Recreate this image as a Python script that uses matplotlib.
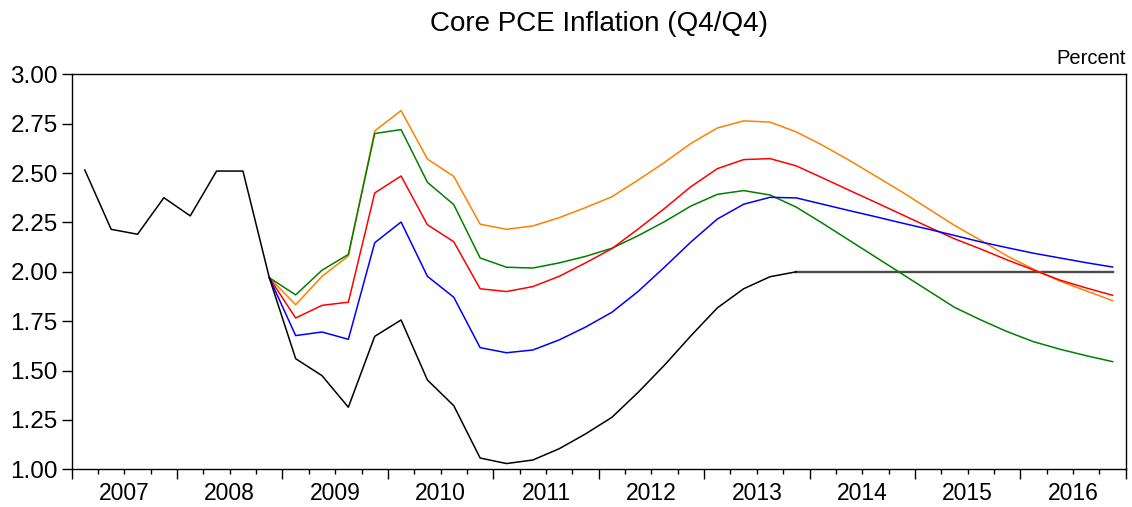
import matplotlib
matplotlib.use("Agg")
import numpy as np
from matplotlib import pyplot as plt

plt.rcParams['font.family'] = ['Liberation Sans', 'DejaVu Sans']

# quarterly data, 2007Q1 .. 2016Q4 (index 0..39)
years = [2007, 2008, 2009, 2010, 2011, 2012, 2013, 2014, 2015, 2016]

# history (2007Q1 - 2013Q4)
actual = [2.515, 2.215, 2.19, 2.375, 2.283, 2.51, 2.51, 1.97,
          1.56, 1.474, 1.314, 1.673, 1.756, 1.452, 1.322, 1.057,
          1.029, 1.047, 1.104, 1.179, 1.263, 1.39, 1.528, 1.676,
          1.817, 1.914, 1.975, 2.0]
# flat 2 percent from 2013Q4 on
target = [2.0, 2.0, 2.0, 2.0, 2.0, 2.0, 2.0, 2.0, 2.0, 2.0, 2.0, 2.0, 2.0]

# scenario paths, 2008Q4 - 2016Q4
orange = [1.97, 1.833, 1.977, 2.08, 2.713, 2.816, 2.571, 2.483, 2.241,
          2.215, 2.232, 2.274, 2.325, 2.38, 2.465, 2.554, 2.65, 2.728,
          2.764, 2.758, 2.708, 2.64, 2.565, 2.485, 2.405, 2.32, 2.235,
          2.159, 2.08, 2.013, 1.953, 1.903, 1.854]
green = [1.97, 1.883, 2.008, 2.088, 2.70, 2.72, 2.453, 2.34, 2.07,
         2.023, 2.019, 2.045, 2.078, 2.119, 2.183, 2.254, 2.333, 2.392,
         2.411, 2.389, 2.327, 2.245, 2.16, 2.075, 1.99, 1.905, 1.82,
         1.756, 1.697, 1.646, 1.608, 1.575, 1.545]
red = [1.97, 1.766, 1.83, 1.846, 2.399, 2.485, 2.238, 2.152, 1.914,
       1.9, 1.925, 1.977, 2.045, 2.117, 2.217, 2.321, 2.431, 2.522,
       2.568, 2.573, 2.536, 2.475, 2.413, 2.352, 2.29, 2.228, 2.167,
       2.115, 2.06, 2.009, 1.958, 1.918, 1.881]
blue = [1.97, 1.677, 1.695, 1.658, 2.147, 2.252, 1.977, 1.871, 1.616,
        1.59, 1.604, 1.655, 1.72, 1.795, 1.901, 2.024, 2.151, 2.267,
        2.342, 2.377, 2.374, 2.342, 2.31, 2.279, 2.247, 2.216, 2.184,
        2.151, 2.122, 2.094, 2.07, 2.046, 2.024]

# points sit in the middle of each quarter
x_act = np.arange(len(actual)) + 0.5
x_tgt = np.arange(27, 27 + len(target)) + 0.5
x_scn = np.arange(7, 7 + len(orange)) + 0.5

fig = plt.figure(figsize=(11.32, 5.07), dpi=100)
ax = fig.add_axes([0.0633, 0.0744, 0.9312, 0.7791])

ax.plot(x_tgt, target, color='#4a4a4a', lw=1.7)
ax.plot(x_scn, orange, color='#ff8000', lw=1.1)
ax.plot(x_scn, green, color='#008000', lw=1.1)
ax.plot(x_scn, red, color='#ff0000', lw=1.1)
ax.plot(x_scn, blue, color='#0000ff', lw=1.1)
ax.plot(x_act, actual, color='black', lw=1.1)

ax.set_xlim(0, 40)
ax.set_ylim(1.0, 3.0)
ax.set_yticks(np.arange(1.0, 3.01, 0.25))
ax.set_yticklabels(['%.2f' % v for v in np.arange(1.0, 3.01, 0.25)], fontsize=17.5)
ax.tick_params(axis='y', length=7, width=1, pad=3)

ax.set_xticks(np.arange(0, 41, 4))
ax.set_xticklabels([])
ax.set_xticks(np.arange(0, 41, 1), minor=True)
ax.tick_params(axis='x', which='major', length=7, width=1)
ax.tick_params(axis='x', which='minor', length=3.5, width=1)

for i, yr in enumerate(years):
    ax.text(4 * i + 2, -0.062, str(yr), transform=ax.get_xaxis_transform(),
            ha='center', va='center', fontsize=16.5)

for s in ax.spines.values():
    s.set_linewidth(1.0)

fig.text(0.529, 0.953, 'Core PCE Inflation (Q4/Q4)', ha='center', va='center',
         fontsize=20)
ax.text(1.0, 1.015, 'Percent', transform=ax.transAxes, ha='right', va='bottom',
        fontsize=14.5)

fig.savefig('out.png', dpi=100)
